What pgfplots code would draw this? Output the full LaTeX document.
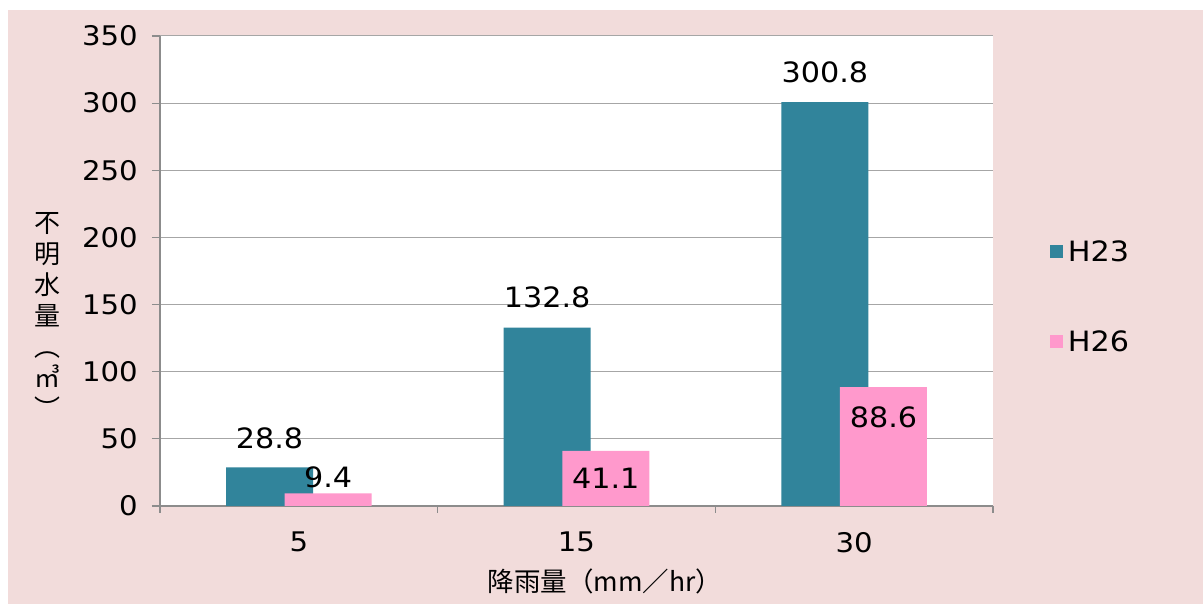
\documentclass[border=0pt]{standalone}
\usepackage{fontspec}
\usepackage{pgfplots}
\usepackage{pgfplotstable}
\pgfplotsset{compat=1.18}
\setmainfont[FakeStretch=1.08]{DejaVu Sans}
\newfontfamily\jp{Noto Sans CJK JP}
\definecolor{bgpink}{HTML}{F2DCDB}
\definecolor{tealA}{HTML}{31849B}
\definecolor{pinkB}{HTML}{FF99CC}
\definecolor{gridgray}{HTML}{A6A6A6}
\definecolor{axgray}{HTML}{8C8C8C}

\pgfplotstableread{
x y dy
0 28.8 29
1 132.8 30
2 300.8 30
}\tabA
\pgfplotstableread{
x y dy
0 9.4 16
1 41.1 -27
2 88.6 -30
}\tabB

\begin{document}
\begin{tikzpicture}
\fill[white] (0,0) rectangle (1203pt,604pt);
\fill[bgpink] (8pt,0) rectangle (1203pt,594pt);
\begin{axis}[
  at={(160pt,98pt)}, anchor=south west,
  scale only axis, width=833pt, height=470pt,
  xmin=-0.5, xmax=2.5, ymin=0, ymax=350,
  ytick={0,50,...,350},
  xtick={0,1,2}, xticklabels={5,15,30},
  minor xtick={-0.5,0.5,1.5,2.5},
  axis x line*=bottom, axis y line*=left,
  axis line style={axgray, line width=1.2pt, -},
  axis background/.style={fill=white},
  ymajorgrids, grid style={gridgray, line width=1pt},
  major x tick style={draw=none},
  minor x tick style={axgray, line width=1.2pt},
  ytick style={axgray, line width=1.2pt},
  tick align=outside,
  major tick length=8pt, minor tick length=7pt,
  /pgf/number format/assume math mode=true,
  tick label style={font=\fontsize{27}{27}\selectfont},
  yticklabel style={anchor=east, inner sep=0pt, xshift=-14pt},
  xticklabel style={anchor=north, inner sep=0pt, yshift=-18pt},
  ylabel={不\\明\\水\\量\\︵\\㎥\\︶},
  ylabel style={align=center, font=\jp\fontsize{26}{31}\selectfont, rotate=-90,
    at={(rel axis cs:-0.1345,0.406)}, anchor=center, inner sep=0pt},
  xlabel={降雨量（mm／hr）},
  xlabel style={font=\jp\fontsize{26.5}{26.5}\selectfont,
    at={(rel axis cs:0.534,-0.16)}, anchor=center, inner sep=0pt},
  legend style={at={(1.068,0.445)}, anchor=west, draw=none, fill=none,
    inner sep=0pt, font=\fontsize{28}{28}\selectfont, row sep=70pt,
    nodes={inner sep=0pt, text height=20pt, text depth=0pt},
    /tikz/every odd column/.style={column sep=5pt}},
  legend cell align=left,
]
\addplot[ybar, bar width=87pt, bar shift=-29.3pt, fill=tealA, draw=none,
  nodes near coords={\pgfmathprintnumber[fixed,fixed zerofill,precision=1]{\pgfplotspointmeta}},
  visualization depends on={\thisrow{dy} \as \dy},
  every node near coord/.append style={anchor=center, xshift=-29.3pt, yshift=\dy pt, inner sep=0pt,
    text=black, font=\fontsize{28}{28}\selectfont},
  legend image code/.code={\fill[tealA] (0pt,-6.5pt) rectangle (13pt,6.5pt);}
] table[x=x, y=y] {\tabA};
\addlegendentry{H23}
\addplot[ybar, bar width=87pt, bar shift=29.3pt, fill=pinkB, draw=none,
  nodes near coords={\pgfmathprintnumber[fixed,fixed zerofill,precision=1]{\pgfplotspointmeta}},
  visualization depends on={\thisrow{dy} \as \dy},
  every node near coord/.append style={anchor=center, xshift=29.3pt, yshift=\dy pt, inner sep=0pt,
    text=black, font=\fontsize{28}{28}\selectfont},
  legend image code/.code={\fill[pinkB] (0pt,-6.5pt) rectangle (13pt,6.5pt);}
] table[x=x, y=y] {\tabB};
\addlegendentry{H26}
\end{axis}
\pgfresetboundingbox
\path (0,0) rectangle (1203pt,604pt);
\end{tikzpicture}
\end{document}
